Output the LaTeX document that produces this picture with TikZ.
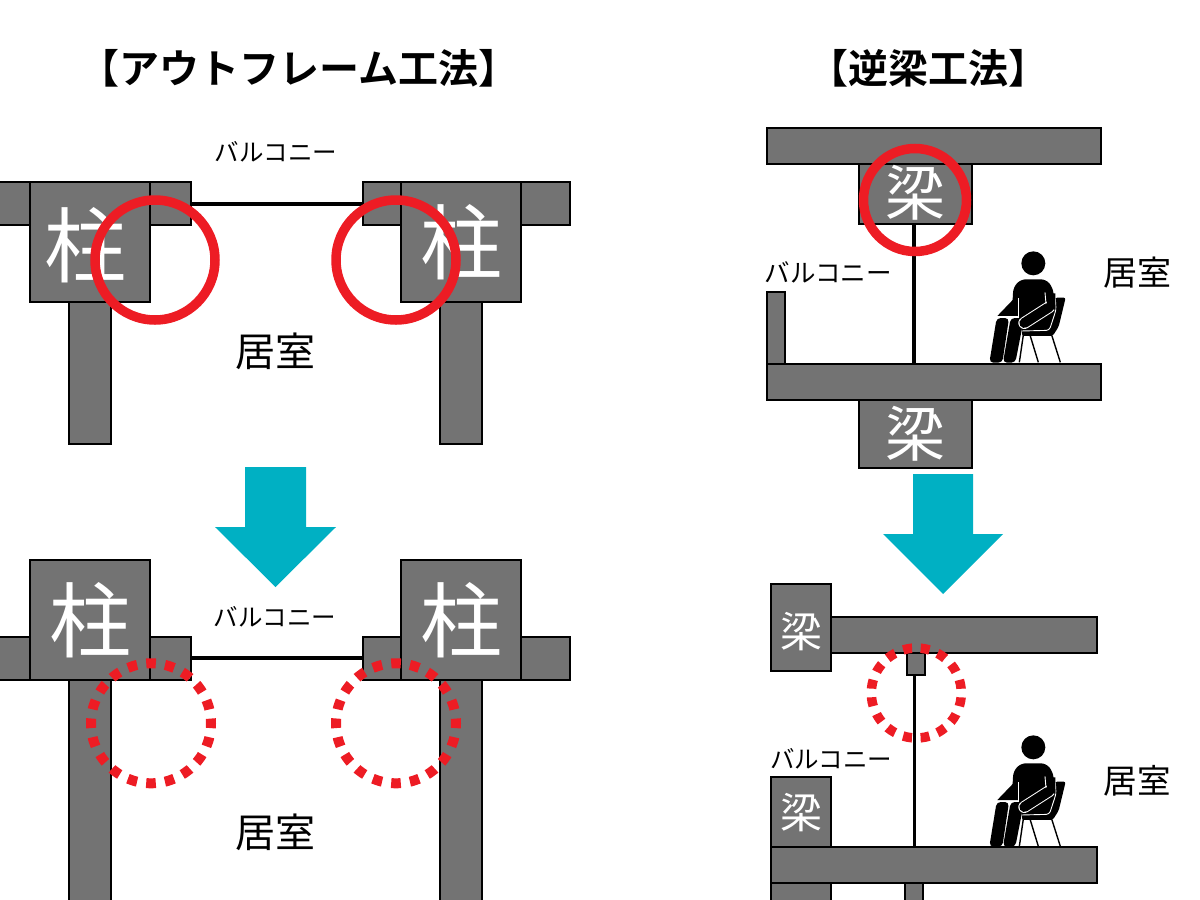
\documentclass[tikz,border=0pt]{standalone}
\usepackage{fontspec}
\newfontfamily\jp{Noto Sans CJK JP}
\newfontfamily\jpb{Noto Sans CJK JP Bold}
\definecolor{struct}{HTML}{737373}
\definecolor{mark}{HTML}{ED1C24}
\definecolor{flow}{HTML}{00B0C3}
\tikzset{
 part/.style={draw=black,fill=struct,line width=2pt},
 thinwall/.style={draw=black,line width=3.2pt},
 solidring/.style={draw=mark,line width=9.5pt},
 dotring/.style={draw=mark,line width=10pt},
 downarrow/.style={fill=flow,draw=none},
 lab/.style={inner sep=0pt,font=\jp},
 inpart/.style={inner sep=0pt,text=white,font=\jp},
 head1/.style={inner sep=0pt,font=\jpb},
 seated/.pic={
  \begin{scope}[x=0.3333pt,y=-0.3333pt,line join=round]
   \draw[black,line width=1.4pt] (190,315)--(178,397) (210,315)--(235,397) (275,315)--(301,397);
   \fill[black,rounded corners=2pt] (286,203)--(317,203)--(296,290)--(278,318)--(186,318)--(186,290)--cycle;
   \fill[black,rounded corners=5pt] (157,225)--(160,172)--(182,148)--(258,148)--(278,172)--(287,235)--(270,297)--(186,297)--(176,262)--cycle;
   \draw[white,line width=0.9pt,rounded corners=3pt] (286,205)--(288,240)--(268,301)--(184,303);
   \fill[black] (160,208)--(112,258)--(176,258)--cycle;
   \fill[black,rounded corners=4pt] (110,264)--(147,264)--(127,398)--(88,398)--cycle;
   \fill[black,rounded corners=4pt] (152,264)--(188,264)--(188,285)--(166,398)--(129,398)--cycle;
   \draw[white,line width=0.9pt] (175,205)--(175,260) (113,261)--(178,261);
   \draw[white,line width=12pt,line cap=round] (193,279)--(268,231);
   \draw[black,line width=10pt,line cap=round] (193,279)--(268,231);
   \fill[black] (260,190)--(286,190)--(286,240)--(262,232)--cycle;
   \draw[white,line width=0.9pt] (255,187)--(258,222);
   \fill[black] (220,100) circle (36);
  \end{scope}}
}
\begin{document}
\begin{tikzpicture}[x=1pt,y=-1pt]
\useasboundingbox (0,0) rectangle (1200,900);
\clip (0,0) rectangle (1200,900);
% titles
\node[head1,font=\jpb\fontsize{40}{42}\selectfont] (t1) at (299,68) {【アウトフレーム工法】};
\node[head1,font=\jpb\fontsize{40}{42}\selectfont] (t2) at (928,68) {【逆梁工法】};
% left top
\draw[part] (-5,182) rectangle (30,225);
\draw[part] (150,182) rectangle (191,225);
\draw[part] (363,182) rectangle (401,225);
\draw[part] (521,182) rectangle (569.5,225);
\draw[part] (69,302) rectangle (111,444);
\draw[part] (440,302) rectangle (482,444);
\node[part,minimum size=120pt,inner sep=0pt] (c1) at (90,242) {};
\node[part,minimum size=120pt,inner sep=0pt] (c2) at (461,242) {};
\node[inpart,font=\jp\fontsize{82}{82}\selectfont] at (85,245) {柱};
\node[inpart,font=\jp\fontsize{82}{82}\selectfont] at (c2) {柱};
\draw[thinwall] (191,204) -- (363,204);
\draw[solidring] (155,260) circle (60);
\draw[solidring] (396,260) circle (60);
\node[lab,font=\jp\fontsize{24.5}{25}\selectfont] (b1) at (276,152) {バルコニー};
\node[lab,font=\jp\fontsize{40}{40}\selectfont] (r1) at (275,351) {居室};
% arrow 1
\fill[downarrow] (245,467)--(306,467)--(306,527)--(336,527)--(275.5,587)--(215,527)--(245,527)--cycle;
% left bottom
\draw[part] (-5,637) rectangle (30,680);
\draw[part] (150,637) rectangle (191,680);
\draw[part] (363,637) rectangle (401,680);
\draw[part] (521,637) rectangle (569.5,680);
\draw[part] (69,680) rectangle (111,910);
\draw[part] (440,680) rectangle (482,910);
\node[part,minimum size=120pt,inner sep=0pt] (c3) at (90,620) {};
\node[part,minimum size=120pt,inner sep=0pt] (c4) at (461,620) {};
\node[inpart,font=\jp\fontsize{82}{82}\selectfont] at (c3) {柱};
\node[inpart,font=\jp\fontsize{82}{82}\selectfont] at (c4) {柱};
\draw[thinwall] (191,658) -- (363,658);
\draw[dotring,dash pattern=on 9.6pt off 9.25pt,dash phase=4.8pt] (151,723.3) circle (60);
\draw[dotring,dash pattern=on 9.6pt off 9.25pt,dash phase=4.8pt] (396,723.3) circle (60);
\node[lab,font=\jp\fontsize{24.5}{25}\selectfont] (b2) at (275,617) {バルコニー};
\node[lab,font=\jp\fontsize{40}{40}\selectfont] (r2) at (275,832) {居室};
% right top
\draw[part] (766.5,127.5) rectangle (1101,164);
\draw[part] (859,164) rectangle (972,224);
\node[inpart,font=\jp\fontsize{60}{60}\selectfont] at (915,193) {梁};
\draw[thinwall] (914,224) -- (914,364);
\draw[part] (767,292) rectangle (785,364);
\draw[part] (766.5,364) rectangle (1101,400);
\draw[part] (859,400) rectangle (972,468);
\node[inpart,font=\jp\fontsize{60}{60}\selectfont] at (915,434) {梁};
\draw[solidring] (915,200) circle (51.5);
\node[lab,font=\jp\fontsize{25.5}{26}\selectfont] (b3) at (828,272) {バルコニー};
\node[lab,font=\jp\fontsize{34}{34}\selectfont] (r3) at (1137,273) {居室};
\pic at (960,230) {seated};
% arrow 2
\fill[downarrow] (913,474)--(973,474)--(973,534)--(1003,534)--(943,594)--(883,534)--(913,534)--cycle;
% right bottom
\draw[part] (831,617) rectangle (1097,652.5);
\draw[part] (771,584) rectangle (831,671);
\node[inpart,font=\jp\fontsize{42}{42}\selectfont] at (801,632) {梁};
\draw[part] (907,652.5) rectangle (925,675);
\draw[thinwall] (914.5,675) -- (914.5,847);
\draw[dotring,line width=9.5pt,dash pattern=on 9pt off 8.67pt,dash phase=13.3pt] (916.3,693) circle (45);
\node[lab,font=\jp\fontsize{24.5}{25}\selectfont] (b4) at (831,759) {バルコニー};
\draw[part] (771,777) rectangle (831,847);
\node[inpart,font=\jp\fontsize{42}{42}\selectfont] at (801,813) {梁};
\draw[part] (771,883) rectangle (831,910);
\draw[part] (905,883) rectangle (923,910);
\draw[part] (771,847) rectangle (1097,883);
\node[lab,font=\jp\fontsize{33.5}{34}\selectfont] (r4) at (1137,781) {居室};
\pic at (960,714) {seated};
\end{tikzpicture}
\end{document}
